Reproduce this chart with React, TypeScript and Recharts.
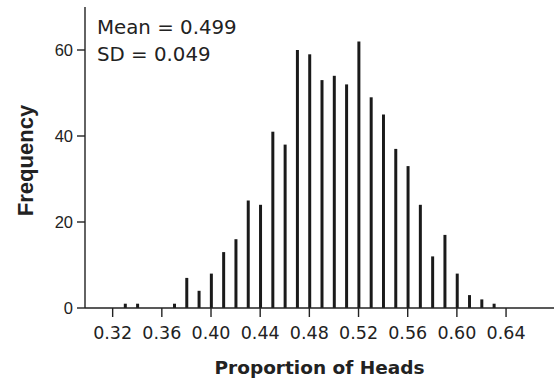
import { BarChart, Bar, XAxis, YAxis } from 'recharts';

const proportions = [
  0.33, 0.34, 0.37, 0.38, 0.39, 0.4, 0.41, 0.42, 0.43, 0.44, 0.45, 0.46, 0.47, 0.48, 0.49,
  0.5, 0.51, 0.52, 0.53, 0.54, 0.55, 0.56, 0.57, 0.58, 0.59, 0.6, 0.61, 0.62, 0.63,
];
const frequencies = [
  1, 1, 1, 7, 4, 8, 13, 16, 25, 24, 41, 38, 60, 59, 53,
  54, 52, 62, 49, 45, 37, 33, 24, 12, 17, 8, 3, 2, 1,
];
const xTicks = [0.32, 0.36, 0.4, 0.44, 0.48, 0.52, 0.56, 0.6, 0.64];
const yTicks = [0, 20, 40, 60];
const statLines = ['Mean = 0.499', 'SD = 0.049'];

const data = proportions.map((p, i) => ({ p, freq: frequencies[i] }));

const ink = '#222';

function FrequencyLabel({ viewBox }: any) {
  const x = viewBox.x + 33;
  const y = viewBox.y + viewBox.height / 2 + 3;
  return (
    <text
      x={x}
      y={y}
      transform={`rotate(-90 ${x} ${y})`}
      textAnchor="middle"
      fill={ink}
      fontSize={22}
      fontWeight="bold"
      fontFamily="'Liberation Sans', Arial, sans-serif"
    >
      Frequency
    </text>
  );
}

export default function App() {
  return (
    <div style={{ position: 'relative', width: 558, height: 381, background: '#fff' }}>
      <style>{'body { margin: 0; }'}</style>
      <BarChart width={558} height={381} data={data} margin={{ top: 7, right: 4, bottom: 0, left: 0 }}>
        <XAxis
          type="number"
          dataKey="p"
          domain={[0.2975, 0.679]}
          allowDataOverflow
          ticks={xTicks}
          interval={0}
          tickFormatter={(v: number) => v.toFixed(2)}
          height={73}
          tickSize={9}
          tickMargin={10}
          stroke={ink}
          strokeWidth={1.4}
          tick={{ fill: ink, fontSize: 17.5, fontFamily: "'DejaVu Sans', sans-serif" }}
          label={{
            value: 'Proportion of Heads',
            position: 'insideBottom',
            offset: 7,
            fill: ink,
            fontSize: 18.5,
            fontWeight: 'bold',
            fontFamily: "'DejaVu Sans', sans-serif",
          }}
        />
        <YAxis
          type="number"
          domain={[0, 70]}
          ticks={yTicks}
          interval={0}
          width={85}
          tickSize={8}
          tickMargin={4}
          stroke={ink}
          strokeWidth={1.4}
          tick={{ fill: ink, fontSize: 16.5, fontFamily: "'Liberation Sans', Arial, sans-serif" }}
          label={FrequencyLabel}
        />
        <Bar dataKey="freq" fill="#1a1a1a" barSize={3} isAnimationActive={false} />
      </BarChart>
      <div
        style={{
          position: 'absolute',
          left: 97,
          top: 15,
          fontFamily: "'DejaVu Sans', sans-serif",
          fontSize: 19.8,
          lineHeight: '26.5px',
          color: ink,
          whiteSpace: 'nowrap',
        }}
      >
        {statLines.map((s) => (
          <div key={s}>{s}</div>
        ))}
      </div>
    </div>
  );
}
